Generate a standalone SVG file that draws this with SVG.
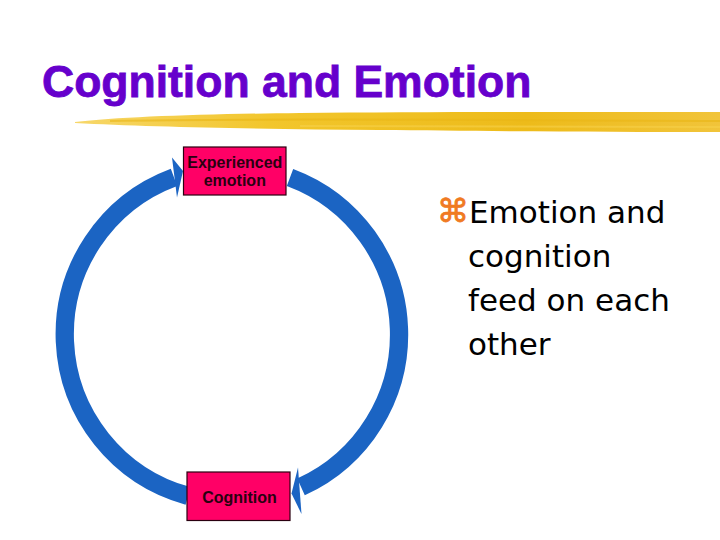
<svg xmlns="http://www.w3.org/2000/svg" width="720" height="540" viewBox="0 0 720 540">
  <defs>
    <linearGradient id="brush" x1="0" y1="0" x2="1" y2="0">
      <stop offset="0" stop-color="#F7D76A"/>
      <stop offset="0.3" stop-color="#F2C62C"/>
      <stop offset="0.7" stop-color="#EDBB1A"/>
      <stop offset="1" stop-color="#F1C43A"/>
    </linearGradient>
  </defs>
  <style>
    .title { font-family: "Liberation Sans", Arial, sans-serif; font-weight: bold; font-size: 44.5px; fill: #6600CC; stroke: #6600CC; stroke-width: 0.8; }
    .box { fill: #FF0066; stroke: #2A0010; stroke-width: 1.2; }
    .boxlabel { font-family: "Liberation Sans", Arial, sans-serif; font-weight: bold; font-size: 16px; fill: #2A0010; text-anchor: middle; }
    .shaft { fill: none; stroke: #1B64C3; stroke-width: 18.3; }
    .head { fill: #1B64C3; }
    .bullet { font-family: "DejaVu Sans", Verdana, sans-serif; font-size: 31px; fill: #000000; }
    .mark { font-family: "DejaVu Sans", sans-serif; font-size: 32px; fill: #F07A22; stroke: #F07A22; stroke-width: 0.8; }
  </style>
  <rect width="720" height="540" fill="#FFFFFF"/>

  <text class="title" x="42" y="97">Cognition and Emotion</text>
  <path d="M75 122 C 120 117, 200 114, 300 113 C 420 112, 560 112, 720 112 L 720 132 C 600 132, 480 131, 380 130 C 260 129, 150 127, 75 123 Z" fill="url(#brush)"/>
  <path d="M110 121 C 250 118, 450 120, 720 121" fill="none" stroke="#E9B516" stroke-width="2" opacity="0.6"/>
  <path d="M300 126 C 450 127, 600 126, 720 127" fill="none" stroke="#F6D04A" stroke-width="2" opacity="0.6"/>

  <g id="connectors">
    <path class="shaft" d="M 188 495.9 A 167.5 167.5 0 0 1 174 177.3"/>
    <polygon class="head" points="172,157.5 183,171 177,197.5"/>
    <path class="shaft" d="M 290 177.5 A 167.5 167.5 0 0 1 301 486.9"/>
    <polygon class="head" points="298,467.5 291.5,493.5 301.5,514"/>
  </g>

  <g id="node-emotion">
    <rect class="box" x="183.5" y="147" width="102.5" height="48"/>
    <text class="boxlabel" x="234.8" y="168.3">Experienced</text>
    <text class="boxlabel" x="234.8" y="185.5">emotion</text>
  </g>

  <g id="node-cognition">
    <rect class="box" x="187" y="472" width="103" height="48.5"/>
    <text class="boxlabel" x="239.5" y="502.5">Cognition</text>
  </g>

  <g id="bullet-text">
    <text class="mark" x="437" y="222">⌘</text>
    <text class="bullet" x="469" y="223">Emotion and</text>
    <text class="bullet" x="468" y="267">cognition</text>
    <text class="bullet" x="468" y="311">feed on each</text>
    <text class="bullet" x="468" y="355">other</text>
  </g>
</svg>
